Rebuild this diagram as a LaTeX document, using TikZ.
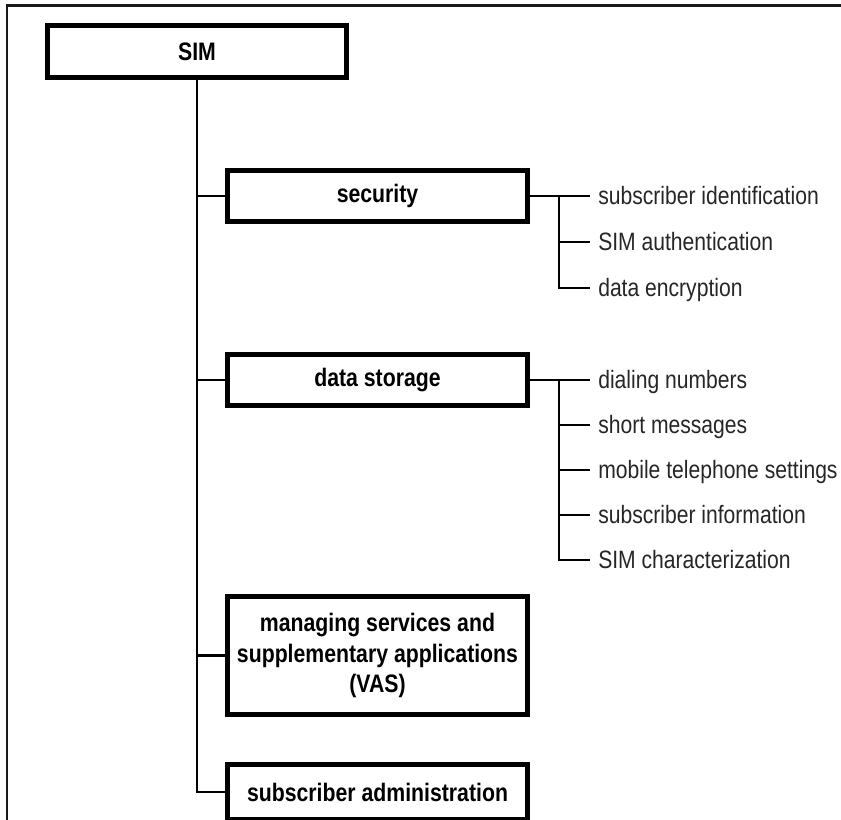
\documentclass[tikz,border=0pt]{standalone}
\usepackage{fontspec}
\newfontfamily\simfont[FakeStretch=0.84]{Liberation Sans}
\usetikzlibrary{positioning}

\begin{document}
\begin{tikzpicture}[
  x=0.02cm, y=-0.02cm,
  font=\simfont\fontsize{14.3}{17.2}\selectfont,
  box/.style={rectangle,draw=black,line width=3pt,fill=white,align=center,
              minimum width=6cm,minimum height=1.02cm,inner sep=2pt,
              font=\simfont\bfseries\fontsize{14.4}{17.4}\selectfont},
  leaf/.style={anchor=west,inner xsep=4.5pt,inner ysep=0pt,
               text height=12pt,text depth=2pt,text=black!85},
  link/.style={line width=1.5pt,black},
  frame/.style={line width=1.3pt,black!90}
]
\clip (0,0) rectangle (841,820);
\draw[frame] (7,820) -- (7,5.5) -- (841,5.5);

%% ================= root =================
\node[box,minimum width=5.98cm,minimum height=1.04cm] (sim) at (197,51.5) {SIM};

%% ================= functions =================
\node[box] (sec) at (377.5,196) {security};
\node[box] (sto) at (377.5,380) {data storage};
\node[box,minimum height=2.36cm] (vas) at (377.5,655.5)
  {managing services and\\supplementary applications\\(VAS)};
\node[box,minimum height=1.1cm] (adm) at (377.5,792) {subscriber administration};

\draw[link] (sim.south) |- (adm.west);
\foreach \b in {sec,sto,vas} \draw[link] (sim.south |- \b.west) -- (\b.west);

%% ================= security items =================
\coordinate (secfork) at (559,196);
\foreach \t [count=\i] in {subscriber identification,SIM authentication,data encryption}
  \node[leaf] (sec\i) at (590,{196+46*(\i-1)}) {\t};
\draw[link] (sec.east) -- (sec1.west);
\draw[link] (secfork) |- (sec3.west);
\draw[link] (secfork |- sec2.west) -- (sec2.west);

%% ================= storage items =================
\coordinate (stofork) at (559,380);
\foreach \t [count=\i] in {dialing numbers,short messages,mobile telephone settings,
                           subscriber information,SIM characterization}
  \node[leaf] (sto\i) at (590,{380+45*(\i-1)}) {\t};
\draw[link] (sto.east) -- (sto1.west);
\draw[link] (stofork) |- (sto5.west);
\foreach \i in {2,3,4} \draw[link] (stofork |- sto\i.west) -- (sto\i.west);

\end{tikzpicture}
\end{document}
